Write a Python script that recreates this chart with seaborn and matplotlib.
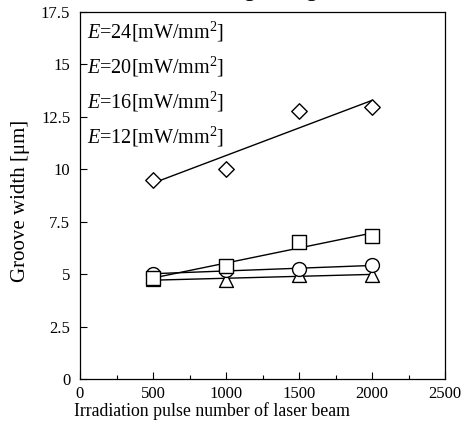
import numpy as np
import pandas as pd
import matplotlib
matplotlib.use("Agg")
import matplotlib.pyplot as plt
import seaborn as sns
from matplotlib.ticker import MultipleLocator

# ---- data ----
pulses = [500, 1000, 1500, 2000]
width_e24 = [9.5, 10.0, 12.8, 12.95]   # diamonds
width_e20 = [4.8, 5.4, 6.55, 6.8]      # squares
width_e16 = [5.0, 5.2, 5.25, 5.42]     # circles
width_e12 = [4.75, 4.72, 4.95, 4.98]   # triangles
legend_labels = ["24", "20", "16", "12"]
xticks = [0, 500, 1000, 1500, 2000, 2500]
yticks = [0, 2.5, 5, 7.5, 10, 12.5, 15, 17.5]
ytick_labels = ["0", "2.5", "5", "7.5", "10", "12.5", "15", "17.5"]

sns.set_theme(style="ticks")
plt.rcParams["font.family"] = ["Liberation Serif", "DejaVu Serif"]
plt.rcParams["mathtext.fontset"] = "custom"
plt.rcParams["mathtext.rm"] = "Liberation Serif"
plt.rcParams["mathtext.it"] = "Liberation Serif:italic"

fig = plt.figure(figsize=(4.63, 4.23), dpi=100)
ax = fig.add_axes([80/463, 44/423, 365/463, 367/423])

series = [
    (width_e12, "^", 100, 3),
    (width_e16, "o", 100, 4),
    (width_e20, "s", 90, 5),
    (width_e24, "D", 62, 6),
]
for vals, mk, s, z in series:
    df = pd.DataFrame({"pulse": pulses, "width": vals})
    sns.regplot(data=df, x="pulse", y="width", ax=ax, ci=None, marker=mk,
                scatter_kws=dict(s=s, facecolors="white", edgecolors="black",
                                 linewidths=1.0, zorder=z, alpha=1),
                line_kws=dict(color="black", lw=1.0, zorder=2))

ax.set_xlim(0, 2500)
ax.set_ylim(0, 17.5)
ax.set_xticks(xticks)
ax.set_xticklabels([str(t) for t in xticks])
ax.set_yticks(yticks)
ax.set_yticklabels(ytick_labels)
ax.xaxis.set_minor_locator(MultipleLocator(250))
ax.tick_params(axis="both", which="major", direction="in", length=5, width=0.8,
               labelsize=12, color="black", labelcolor="black")
ax.tick_params(axis="x", which="major", pad=5)
ax.tick_params(axis="y", which="major", pad=7)
ax.tick_params(axis="x", which="minor", direction="in", length=3, width=0.8, color="black")
for sp in ax.spines.values():
    sp.set_visible(True)
    sp.set_color("black")
    sp.set_linewidth(0.9)

ax.set_xlabel("Irradiation pulse number of laser beam", fontsize=12.8, color="black", labelpad=0)
ax.xaxis.label.set_x(0.362)
ax.set_ylabel("Groove width [μm]", fontsize=15, color="black", labelpad=8)
ax.yaxis.label.set_y(0.485)

ys = [16.26, 14.59, 12.92, 11.25]
for lab, yv in zip(legend_labels, ys):
    ax.text(45, yv, r"$\mathit{E}$=" + lab + r"[mW/mm$^{2}$]", fontsize=14.5,
            color="black", va="baseline", ha="left")

fig.text(228/463, 1 + 4/423, "Surface roughening", fontsize=16.5,
         ha="center", va="baseline", color="black")

fig.savefig("out.png", dpi=100, facecolor="white")
